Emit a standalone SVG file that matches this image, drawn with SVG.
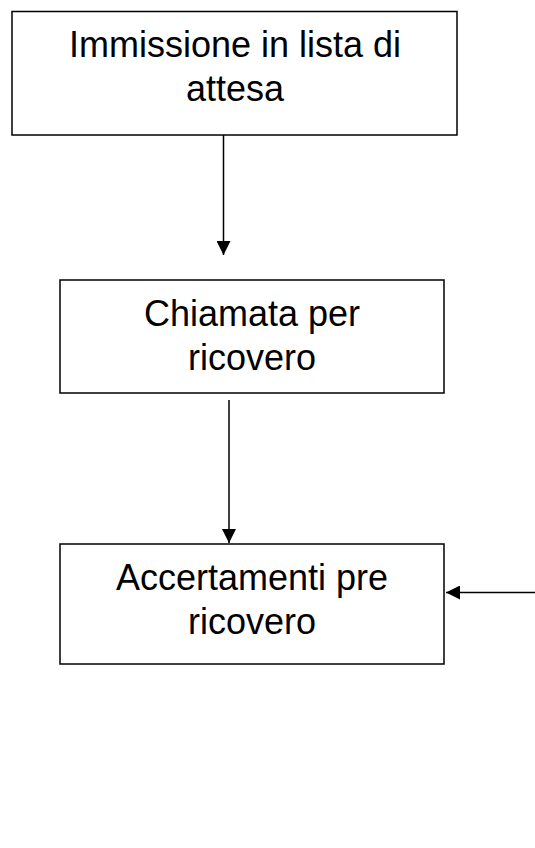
<svg xmlns="http://www.w3.org/2000/svg" width="535" height="848" viewBox="0 0 535 848">
  <style>
    .box { fill: #ffffff; stroke: #000000; stroke-width: 1.5; }
    .lbl { font-family: "Liberation Sans", Arial, sans-serif; font-size: 36px; fill: #000000; text-anchor: middle; }
    .link { stroke: #000000; stroke-width: 1.5; fill: none; }
  </style>
  <defs>
    <marker id="arrow" viewBox="0 0 14 14" refX="14" refY="7" markerWidth="14" markerHeight="14" markerUnits="userSpaceOnUse" orient="auto">
      <path d="M0,0 L14,7 L0,14 Z" fill="#000000"/>
    </marker>
  </defs>
  <rect width="535" height="848" fill="#ffffff"/>

  <g id="connectors">
    <line class="link" x1="223.5" y1="135" x2="223.5" y2="255" marker-end="url(#arrow)"/>
    <line class="link" x1="229" y1="400" x2="229" y2="543" marker-end="url(#arrow)"/>
    <line class="link" x1="535" y1="592.5" x2="446" y2="592.5" marker-end="url(#arrow)"/>
  </g>

  <g id="immissione">
    <rect class="box" x="12" y="11.5" width="445" height="123.5"/>
    <text class="lbl" x="235" y="56.5">Immissione in lista di</text>
    <text class="lbl" x="235" y="101">attesa</text>
  </g>

  <g id="chiamata">
    <rect class="box" x="60" y="280" width="384" height="113"/>
    <text class="lbl" x="252" y="326">Chiamata per</text>
    <text class="lbl" x="252" y="370">ricovero</text>
  </g>

  <g id="accertamenti">
    <rect class="box" x="60" y="544" width="384" height="120"/>
    <text class="lbl" x="252" y="590">Accertamenti pre</text>
    <text class="lbl" x="252" y="634">ricovero</text>
  </g>
</svg>
